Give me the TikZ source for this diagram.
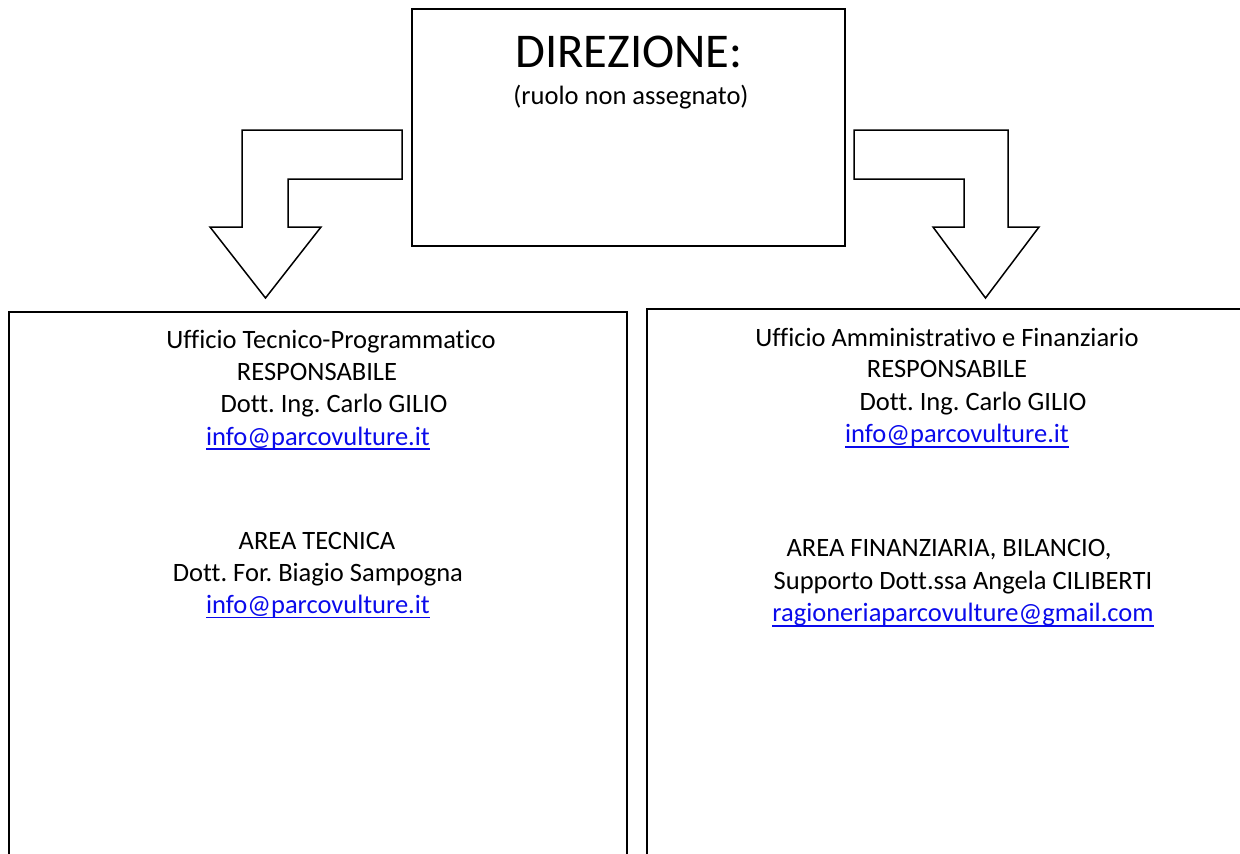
\documentclass[tikz,border=0pt]{standalone}
\usepackage{fontspec}
\setmainfont{Carlito}[Ligatures=NoCommon]
\frenchspacing
\definecolor{linkblue}{RGB}{10,10,235}
\newcommand{\maillink}[1]{\textcolor{linkblue}{\setbox0\hbox{#1}\rlap{\rule[-5pt]{\wd0}{1.6pt}}\box0}}
\begin{document}
\begin{tikzpicture}[x=1pt,y=-1pt,line width=1.5pt,
	box/.style={draw, rectangle, inner sep=0pt},
	bigarrow/.style={draw, fill=white, line join=miter},
	txt/.style={inner sep=0pt, anchor=base, font=\fontsize{26.5}{30}\selectfont},
	headtxt/.style={inner sep=0pt, anchor=base, font=\fontsize{48.5}{56}\selectfont}]
	\useasboundingbox (0,0) rectangle (1240,854);
	\clip (0,0) rectangle (1240,854);
	% direzione
	\node (dir) at (628.5,127.5) [box, minimum width=433pt, minimum height=237pt] {};
	\node (dirT) at (629,67)	[headtxt]	{DIREZIONE:};
	\node (dirS) at (631,104)	[txt]		{(ruolo non assegnato)};
	% frecce
	\draw[bigarrow] (242,130) -- (402,130) -- (402,179) -- (288,179) -- (288,227) -- (321,227)
		-- (265.5,298) -- (210,227) -- (242,227) -- cycle;
	\draw[bigarrow] (854,130) -- (1008,130) -- (1008,227) -- (1039,227) -- (985.5,298)
		-- (933,227) -- (964,227) -- (964,179) -- (854,179) -- cycle;
	% uffici
	\draw (9,870) |- (627,312) -- (627,870);
	\draw (647,870) |- (1250,309);
	\node (tp)  at (331,348.3)	[txt]	{Ufficio Tecnico-Programmatico};
	\node (tp1) at (317,380)	[txt]	{RESPONSABILE};
	\node (tp2) at (334,412.7)	[txt]	{Dott. Ing. Carlo GILIO};
	\node (tp3) at (318,445)	[txt]	{\maillink{info@parcovulture.it}};
	\node (tp4) at (317,549.3)	[txt]	{AREA TECNICA};
	\node (tp5) at (318,581.7)	[txt]	{Dott. For. Biagio Sampogna};
	\node (tp6) at (318,613.3)	[txt]	{\maillink{info@parcovulture.it}};
	\node (af)  at (947,346)	[txt]	{Ufficio Amministrativo e Finanziario};
	\node (af1) at (947,377.7)	[txt]	{RESPONSABILE};
	\node (af2) at (973,410)	[txt]	{Dott. Ing. Carlo GILIO};
	\node (af3) at (957,442.7)	[txt]	{\maillink{info@parcovulture.it}};
	\node (af4) at (949,556.7)	[txt]	{AREA FINANZIARIA, BILANCIO,};
	\node (af5) at (963,589.3)	[txt]	{Supporto Dott.ssa Angela CILIBERTI};
	\node (af6) at (963,621.7)	[txt]	{\maillink{ragioneriaparcovulture@gmail.com}};
\end{tikzpicture}
\end{document}
